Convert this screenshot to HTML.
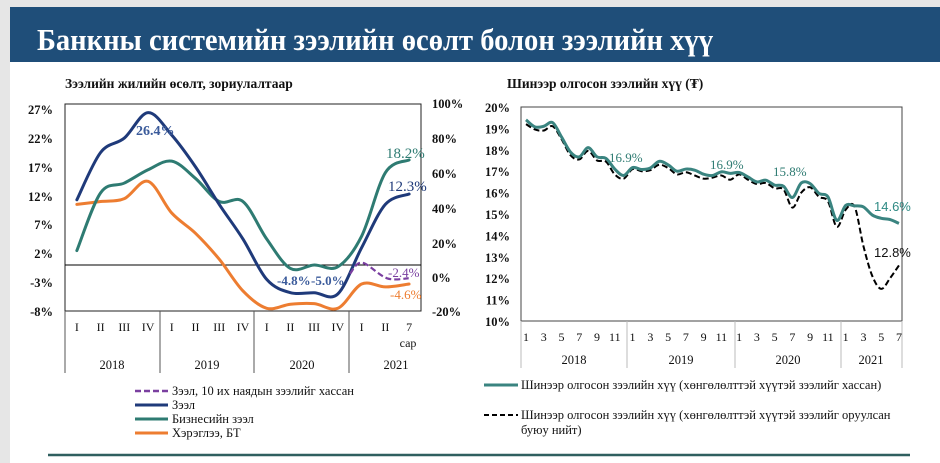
<!DOCTYPE html>
<html><head><meta charset="utf-8"><style>
html,body{margin:0;padding:0;background:#fff;}
body{width:940px;height:463px;overflow:hidden;position:relative;font-family:"Liberation Serif",serif;}
svg text{font-family:"Liberation Serif",serif;}
</style></head><body>
<svg id="s" width="940" height="463" xmlns="http://www.w3.org/2000/svg" font-family="Liberation Serif, serif" style="position:absolute;left:0;top:0">
<rect x="0" y="0" width="940" height="463" fill="#fff"/>
<rect x="0" y="0" width="940" height="7" fill="#e6e6e6"/>
<rect x="0" y="0" width="10" height="463" fill="#e6e6e6"/>
<rect x="10" y="7" width="930" height="55" fill="#1f4e79"/>
<text x="37" y="50" fill="#fff" font-weight="bold" font-size="31" textLength="676" lengthAdjust="spacingAndGlyphs">Банкны системийн зээлийн өсөлт болон зээлийн хүү</text>

<text x="65" y="88" font-weight="bold" font-size="13.5" fill="#111">Зээлийн жилийн өсөлт, зориулалтаар</text>
<rect x="65" y="104" width="356" height="207" fill="none" stroke="#222" stroke-width="1"/>
<line x1="65" y1="265" x2="421" y2="265" stroke="#000" stroke-width="1"/>
<g font-size="12.5" font-weight="bold" fill="#111" text-anchor="end">
<text x="53" y="114">27%</text><text x="53" y="143">22%</text><text x="53" y="172">17%</text><text x="53" y="201">12%</text><text x="53" y="229">7%</text><text x="53" y="258">2%</text><text x="53" y="287">-3%</text><text x="53" y="316">-8%</text>
</g>
<g font-size="12.5" font-weight="bold" fill="#111">
<text x="432" y="108">100%</text><text x="432" y="143">80%</text><text x="432" y="178">60%</text><text x="432" y="213">40%</text><text x="432" y="248">20%</text><text x="432" y="282">0%</text><text x="432" y="316">-20%</text>
</g>
<g stroke="#555" stroke-width="1">
<line x1="65" y1="311" x2="65" y2="373"/><line x1="160" y1="311" x2="160" y2="373"/><line x1="254" y1="311" x2="254" y2="373"/><line x1="349" y1="311" x2="349" y2="373"/>
</g>
<g id="lcat" font-size="12" fill="#111" text-anchor="middle"></g>
<text x="408" y="347" font-size="12" text-anchor="middle" fill="#111">сар</text>
<g font-size="12.5" fill="#111" text-anchor="middle">
<text x="112" y="369">2018</text><text x="207" y="369">2019</text><text x="302" y="369">2020</text><text x="396" y="369">2021</text>
</g>
<g id="lser"></g>
<g>
<text x="136" y="135" fill="#3b5b9b" font-size="14" font-weight="bold">26.4%</text>
<text x="386" y="158" fill="#2e7b72" font-size="15">18.2%</text>
<text x="388" y="191" fill="#1f3a7a" font-size="15">12.3%</text>
<text x="277" y="285" fill="#3b5b9b" font-size="13" font-weight="bold">-4.8%</text>
<text x="311" y="285" fill="#3b5b9b" font-size="13" font-weight="bold">-5.0%</text>
<text x="388" y="277" fill="#7a3fa0" font-size="13">-2.4%</text>
<text x="390" y="299" fill="#ed7d31" font-size="13">-4.6%</text>
</g>
<g font-size="12.5" fill="#111">
<line x1="135" y1="391" x2="168" y2="391" stroke="#7a3fa0" stroke-width="2.5" stroke-dasharray="6,3"/><text x="172" y="395">Зээл, 10 их наядын зээлийг хассан</text>
<line x1="135" y1="405" x2="168" y2="405" stroke="#1f3a7a" stroke-width="3"/><text x="172" y="409">Зээл</text>
<line x1="135" y1="419" x2="168" y2="419" stroke="#2e7b72" stroke-width="3"/><text x="172" y="423">Бизнесийн зээл</text>
<line x1="135" y1="433" x2="168" y2="433" stroke="#ed7d31" stroke-width="3"/><text x="172" y="437">Хэрэглээ, БТ</text>
</g>

<text x="507" y="88" font-weight="bold" font-size="13.5" fill="#111">Шинээр олгосон зээлийн хүү (₮)</text>
<rect x="521" y="107" width="381" height="214" fill="none" stroke="#444" stroke-width="1"/>
<g id="rlab" font-size="12.5" font-weight="bold" fill="#111" text-anchor="end"></g>
<g stroke="#bbb" stroke-width="1">
<line x1="521" y1="321" x2="521" y2="368"/><line x1="627" y1="321" x2="627" y2="368"/><line x1="735" y1="321" x2="735" y2="368"/><line x1="841" y1="321" x2="841" y2="368"/><line x1="902" y1="321" x2="902" y2="368"/>
</g>
<g id="rcat" font-size="12" fill="#111" text-anchor="middle"></g>
<g font-size="12.5" fill="#111" text-anchor="middle">
<text x="574" y="364">2018</text><text x="681" y="364">2019</text><text x="788" y="364">2020</text><text x="871" y="364">2021</text>
</g>
<g id="rser"></g>
<g font-size="13">
<text x="609" y="162" fill="#2e7b72">16.9%</text>
<text x="710" y="169" fill="#2e7b72">16.9%</text>
<text x="773" y="176" fill="#2e7b72">15.8%</text>
<text x="874" y="211" fill="#2e8a84" style="font-family:'Liberation Sans',sans-serif" font-size="13">14.6%</text>
<text x="874" y="257" fill="#111" style="font-family:'Liberation Sans',sans-serif" font-size="13">12.8%</text>
</g>
<g font-size="12.5" fill="#111">
<line x1="484" y1="385" x2="518" y2="385" stroke="#3a8480" stroke-width="3"/><text x="521" y="389">Шинээр олгосон зээлийн хүү (хөнгөлөлттэй хүүтэй зээлийг хассан)</text>
<line x1="484" y1="415" x2="518" y2="415" stroke="#000" stroke-width="2" stroke-dasharray="5,3"/><text x="521" y="419">Шинээр олгосон зээлийн хүү (хөнгөлөлттэй хүүтэй зээлийг оруулсан</text>
<text x="521" y="434">буюу нийт)</text>
</g>
<line x1="48" y1="455" x2="910" y2="455" stroke="#2f5f5f" stroke-width="2.5"/>
</svg>
<script>
var NS="http://www.w3.org/2000/svg";
function el(p,t,a,txt){var e=document.createElementNS(NS,t);for(var k in a)e.setAttribute(k,a[k]);if(txt!==undefined)e.textContent=txt;document.getElementById(p).appendChild(e);return e;}
function smooth(pts){var d="M"+pts[0][0]+","+pts[0][1];for(var i=0;i<pts.length-1;i++){var p0=pts[i-1]||pts[i],p1=pts[i],p2=pts[i+1],p3=pts[i+2]||p2;var t=6;d+=" C"+(p1[0]+(p2[0]-p0[0])/t)+","+(p1[1]+(p2[1]-p0[1])/t)+" "+(p2[0]-(p3[0]-p1[0])/t)+","+(p2[1]-(p3[1]-p1[1])/t)+" "+p2[0]+","+p2[1];}return d;}
var cats=["I","II","III","IV","I","II","III","IV","I","II","III","IV","I","II","7"];
function lx(i){return 65+23.73*(i+0.5);}
function ly(v){return 265-5.77*v;}
cats.forEach(function(c,i){el("lcat","text",{x:lx(i),y:331},c);});
function lser(vals,col,w,dash,start){var pts=vals.map(function(v,i){return [lx(i+(start||0)),ly(v)];});var a={d:smooth(pts),fill:"none",stroke:col,"stroke-width":w,"stroke-linecap":"round"};if(dash)a["stroke-dasharray"]=dash;el("lser","path",a);}
lser([10.5,11,11.5,14.5,9,5.5,1,-4.5,-7.5,-6.8,-6.7,-7.5,-3.3,-3.8,-3.3],"#ed7d31",3);
lser([2.5,12.5,14.2,16.5,18,15,11,11,4.5,-0.6,0,-0.3,5,16,18.2],"#2e7b72",3);
lser([11.3,19.5,22,26.4,22.5,17,10.5,4.5,-2.5,-4.8,-4.8,-5.0,3,10.5,12.3],"#1f3a7a",3);
el("lser","path",{d:smooth([[350,-1.5],[362,0.4],[387,-2.3],[408.7,-2.3]].map(function(p){return [p[0],ly(p[1])];})),fill:"none",stroke:"#7a3fa0","stroke-width":2.2,"stroke-dasharray":"6,3"});
function rx(i){return 526+8.88*i;}
function ry(v){return 321-21.4*(v-10);}
for(var v=20;v>=10;v--)el("rlab","text",{x:510,y:ry(v)+5},v+"%");
var ml=[1,3,5,7,9,11];
for(var y=0;y<4;y++){for(var j=0;j<6;j++){var m=y*12+j*2;if(m>42)break;el("rcat","text",{x:rx(m),y:341},ml[j]);}}
var teal=[19.4,19.07,19.1,19.27,18.6,17.9,17.67,18.1,17.67,17.6,17.1,16.8,17.17,17.08,17.15,17.46,17.3,17.0,17.1,17.05,16.86,16.8,16.97,16.9,16.94,16.73,16.5,16.58,16.35,16.3,15.77,16.45,16.42,15.96,15.8,14.7,15.4,15.38,15.33,14.95,14.8,14.74,14.56];
var tot=[19.2,18.95,18.9,19.1,18.5,17.75,17.55,17.95,17.5,17.45,16.85,16.65,17.1,17.0,17.05,17.3,17.15,16.85,16.95,16.8,16.65,16.7,16.8,16.6,16.85,16.6,16.4,16.45,16.2,16.15,15.3,16.0,16.25,15.8,15.6,14.4,15.2,15.35,13.5,12.1,11.5,12.0,12.6];
el("rser","path",{d:smooth(tot.map(function(v,i){return [rx(i),ry(v)];})),fill:"none",stroke:"#000","stroke-width":2,"stroke-dasharray":"6,3"});
el("rser","path",{d:smooth(teal.map(function(v,i){return [rx(i),ry(v)];})),fill:"none",stroke:"#3a8480","stroke-width":3});
</script>
</body></html>
